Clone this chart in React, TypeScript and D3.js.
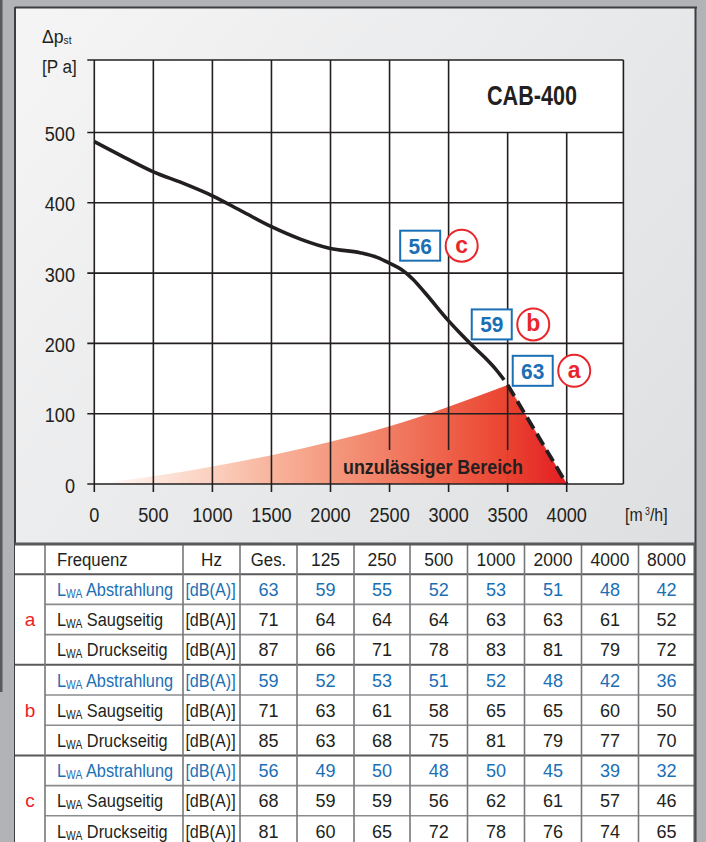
import * as d3 from 'd3';

const WIDTH = 706;
const HEIGHT = 842;

// fan curve CAB-400 [m3/h] / [Pa]
const curveFlow = [0, 250, 500, 750, 1000, 1250, 1500, 1750, 2000, 2250, 2400, 2500, 2600, 2700, 2800, 3000, 3100, 3200, 3300, 3400, 3470];
const curvePressure = [487, 465, 444, 428, 410, 388, 366, 348, 335, 329, 322, 314, 305, 291, 272, 232, 214, 197, 181, 163, 148];

// not allowed region (upper edge) + limit line
const areaFlow = [0, 500, 1000, 1500, 2000, 2500, 3000, 3500];
const areaPressure = [0, 11, 25, 41, 60, 82, 110, 141];
const limitFlow = [3500, 4000];
const limitPressure = [141, 0];

const xTicks = [0, 500, 1000, 1500, 2000, 2500, 3000, 3500, 4000];
const yTicks = [0, 100, 200, 300, 400, 500];

// operating points a / b / c : label box anchor
const pointIds = ['a', 'b', 'c'];
const pointFlow = [3543, 3196, 2590];
const pointPressure = [161, 227, 339];

// table
const freqHeader = ['Ges.', '125', '250', '500', '1000', '2000', '4000', '8000'];
const rowNames = ['Abstrahlung', 'Saugseitig', 'Druckseitig'];
const valuesA = [
  [63, 59, 55, 52, 53, 51, 48, 42],
  [71, 64, 64, 64, 63, 63, 61, 52],
  [87, 66, 71, 78, 83, 81, 79, 72],
];
const valuesB = [
  [59, 52, 53, 51, 52, 48, 42, 36],
  [71, 63, 61, 58, 65, 65, 60, 50],
  [85, 63, 68, 75, 81, 79, 77, 70],
];
const valuesC = [
  [56, 49, 50, 48, 50, 45, 39, 32],
  [68, 59, 59, 56, 62, 61, 57, 46],
  [81, 60, 65, 72, 78, 76, 74, 65],
];
const groups = [valuesA, valuesB, valuesC];

const INK = '#231f20';
const BLUE = '#1a6fb5';
const RED = '#e8262b';
const FONT = "'Liberation Sans', Arial, sans-serif";

type TxtProps = {
  x: number;
  y: number;
  size?: number;
  sx?: number;
  anchor?: 'start' | 'middle' | 'end';
  weight?: string;
  fill?: string;
  children: any;
};

// y = visual middle of the capitals
const Txt = ({ x, y, size = 19, sx = 1, anchor = 'middle', weight = 'normal', fill = INK, children }: TxtProps) => (
  <text
    transform={`translate(${x},${y + size * 0.36}) scale(${sx},1)`}
    fontSize={size}
    textAnchor={anchor}
    fontWeight={weight}
    fill={fill}
  >
    {children}
  </text>
);

const Chart = () => {
  const xScale = d3.scaleLinear().domain([0, 4000]).range([94.3, 566.7]);
  const yScale = d3.scaleLinear().domain([0, 500]).range([484, 132.5]);
  const plotLeft = xScale(0);
  const plotRight = xScale(4480);
  const plotTop = 60;
  const plotBottom = yScale(0);

  const curve = curveFlow.map((q, i) => [q, curvePressure[i]] as [number, number]);
  const lineGen = d3
    .line<[number, number]>()
    .x((d) => xScale(d[0]))
    .y((d) => yScale(d[1]))
    .curve(d3.curveMonotoneX);
  const limitGen = d3
    .line<[number, number]>()
    .x((d) => xScale(d[0]))
    .y((d) => yScale(d[1]));

  const areaGen = d3
    .area<[number, number]>()
    .x((d) => xScale(d[0]))
    .y0(yScale(0))
    .y1((d) => yScale(d[1]));
  const areaTop = areaFlow.map((q, i) => [q, areaPressure[i]] as [number, number]);
  const limit = limitFlow.map((q, i) => [q, limitPressure[i]] as [number, number]);
  const areaPath = areaGen.curve(d3.curveMonotoneX)(areaTop) || '';
  const limitArea = areaGen.curve(d3.curveLinear)(limit) || '';

  const titleLeft = xScale(3000);

  const redRegion = (clip?: string) => (
    <g clipPath={clip}>
      <path d={areaPath} fill="url(#redGrad)" />
      <path d={limitArea} fill="url(#redGrad)" stroke="url(#redGrad)" strokeWidth={0.6} />
    </g>
  );

  return (
    <g fontFamily={FONT}>
      <defs>
        <linearGradient id="redGrad" gradientUnits="userSpaceOnUse" x1={xScale(0)} x2={xScale(4000)} y1={0} y2={0}>
          <stop offset="0" stopColor="#ffffff" />
          <stop offset="0.125" stopColor="#fde6dc" />
          <stop offset="0.25" stopColor="#fbd0bf" />
          <stop offset="0.375" stopColor="#f8b49c" />
          <stop offset="0.5" stopColor="#f49a7f" />
          <stop offset="0.75" stopColor="#ee6048" />
          <stop offset="0.875" stopColor="#ea4330" />
          <stop offset="1" stopColor="#e31e24" />
        </linearGradient>
        <clipPath id="labelClip">
          <rect x={338} y={450} width={195} height={plotBottom - 451} />
        </clipPath>
      </defs>

      <rect x={plotLeft} y={plotTop} width={plotRight - plotLeft} height={plotBottom - plotTop} fill="#fff" />
      {redRegion()}

      {/* grid */}
      {xTicks.slice(1).map((t) => (
        <line
          key={'gx' + t}
          x1={xScale(t)}
          x2={xScale(t)}
          y1={t > 3000 ? yScale(500) : plotTop}
          y2={plotBottom + 8}
          stroke={INK}
          strokeWidth={1.6}
        />
      ))}
      {yTicks.slice(1).map((t) => (
        <line key={'gy' + t} x1={plotLeft - 7} x2={plotRight} y1={yScale(t)} y2={yScale(t)} stroke={INK} strokeWidth={1.6} />
      ))}
      <line x1={plotLeft - 7} x2={plotRight} y1={plotTop} y2={plotTop} stroke={INK} strokeWidth={1.6} />
      <line x1={plotLeft - 7} x2={plotRight} y1={plotBottom} y2={plotBottom} stroke={INK} strokeWidth={1.6} />
      <line x1={plotLeft} x2={plotLeft} y1={plotTop} y2={plotBottom + 8} stroke={INK} strokeWidth={1.6} />
      <line x1={plotRight} x2={plotRight} y1={plotTop} y2={plotBottom} stroke={INK} strokeWidth={1.6} />

      {/* region label sits on its own patch of the gradient */}
      {redRegion('url(#labelClip)')}
      <text x={433} y={473.5} fontSize={20} fontWeight="bold" fill={INK} textAnchor="middle" textLength={180} lengthAdjust="spacingAndGlyphs">
        unzulässiger Bereich
      </text>

      {/* curve + limit */}
      <path d={lineGen(curve) || ''} fill="none" stroke={INK} strokeWidth={3.6} strokeLinecap="butt" />
      <path d={limitGen(limit) || ''} fill="none" stroke={INK} strokeWidth={3.8} strokeDasharray="13,6" />

      {/* title */}
      <text x={(titleLeft + plotRight) / 2 - 4} y={105} fontSize={27} fontWeight="bold" fill={INK} textAnchor="middle" textLength={90} lengthAdjust="spacingAndGlyphs">
        CAB-400
      </text>

      {/* tick labels */}
      {xTicks.map((t) => (
        <Txt key={'xl' + t} x={xScale(t)} y={514.5} size={19.5} sx={0.93}>
          {t}
        </Txt>
      ))}
      {yTicks.map((t) => (
        <Txt key={'yl' + t} x={75} y={yScale(t) + 1.5} size={19.5} sx={0.93} anchor="end">
          {t}
        </Txt>
      ))}
      <Txt x={42} y={36.5} size={19} sx={0.93} anchor="start">
        Δp<tspan fontSize={11} dy={1}>st</tspan>
      </Txt>
      <Txt x={42} y={66} size={19} sx={0.9} anchor="start">
        [P a]
      </Txt>
      <Txt x={625} y={515} size={18} sx={0.88} anchor="start">
        [m<tspan fontSize={10} dy={-6}> 3</tspan>
        <tspan dy={6}>/h]</tspan>
      </Txt>

      {/* operating point labels */}
      {pointIds.map((id, i) => {
        const bx = xScale(pointFlow[i]);
        const cy = yScale(pointPressure[i]);
        return (
          <g key={id}>
            <rect x={bx} y={cy - 15} width={40} height={30} fill="#fff" stroke={BLUE} strokeWidth={2} />
            <Txt x={bx + 20} y={cy} size={22} weight="bold" fill={BLUE} sx={0.95}>
              {groups[i][0][0]}
            </Txt>
            <circle cx={bx + 61.5} cy={cy} r={16} fill="#fff" stroke={RED} strokeWidth={2} />
            <text x={bx + 61.5} y={cy + 7} fontSize={23} fontWeight="bold" fill={RED} textAnchor="middle">
              {id}
            </text>
          </g>
        );
      })}
    </g>
  );
};

const Table = () => {
  const top = 544;
  const rowH = 30.2;
  const colEdges = [15, 45, 183, 240, 297, 354, 410, 467.5, 524.5, 581.5, 638.5, 694.5];
  const rowY = (i: number) => top + i * rowH;
  const valueX = (j: number) => (colEdges[j + 3] + colEdges[j + 4]) / 2;
  const nRows = 1 + groups.length * 3;

  return (
    <g fontFamily={FONT}>
      <rect x={colEdges[0]} y={top} width={colEdges[11] - colEdges[0]} height={HEIGHT - top} fill="#fff" />
      {/* inner horizontal lines */}
      {d3.range(1, nRows + 1).map((i) => {
        const groupLine = (i - 1) % 3 === 0;
        return (
          <line
            key={'h' + i}
            x1={groupLine ? colEdges[0] : colEdges[1]}
            x2={colEdges[11]}
            y1={rowY(i)}
            y2={rowY(i)}
            stroke={groupLine ? '#58595b' : '#8a8c8e'}
            strokeWidth={groupLine ? 2 : 1.6}
          />
        );
      })}
      {colEdges.slice(1, 11).map((x, k) => (
        <line key={'v' + k} x1={x} x2={x} y1={top} y2={HEIGHT} stroke="#77787b" strokeWidth={1.6} />
      ))}
      <line x1={colEdges[11]} x2={colEdges[11]} y1={top} y2={HEIGHT} stroke="#58595b" strokeWidth={2} />
      <line x1={colEdges[0]} x2={colEdges[11] + 1} y1={top} y2={top} stroke="#58595b" strokeWidth={3} />

      {/* header */}
      <Txt x={57} y={rowY(0) + 15} sx={0.88} anchor="start">
        Frequenz
      </Txt>
      <Txt x={(colEdges[2] + colEdges[3]) / 2} y={rowY(0) + 15} sx={0.9}>
        Hz
      </Txt>
      {freqHeader.map((f, j) => (
        <Txt key={'fh' + f} x={valueX(j)} y={rowY(0) + 15} sx={f === 'Ges.' ? 0.88 : 0.92}>
          {f}
        </Txt>
      ))}

      {groups.map((g, gi) => (
        <g key={'g' + gi}>
          <Txt x={30} y={rowY(2 + gi * 3) + 15} fill="#ed1c24">
            {pointIds[gi]}
          </Txt>
          {g.map((vals, ri) => {
            const cy = rowY(1 + gi * 3 + ri) + 15;
            const color = ri === 0 ? BLUE : INK;
            return (
              <g key={'r' + ri}>
                <Txt x={57} y={cy} sx={0.86} anchor="start" fill={color}>
                  L<tspan fontSize={12} dy={2}>WA</tspan>
                  <tspan dy={-2}> {rowNames[ri]}</tspan>
                </Txt>
                <Txt x={(colEdges[2] + colEdges[3]) / 2 - 1} y={cy} sx={0.85} fill={color}>
                  [dB(A)]
                </Txt>
                {vals.map((v, j) => (
                  <Txt key={'v' + j} x={valueX(j)} y={cy} sx={0.95} fill={color}>
                    {v}
                  </Txt>
                ))}
              </g>
            );
          })}
        </g>
      ))}
    </g>
  );
};

export default function App() {
  return (
    <svg width={WIDTH} height={HEIGHT} style={{ position: 'absolute', left: 0, top: 0, display: 'block' }}>
      <defs>
        <linearGradient id="panelGrad" x1="0" y1="0" x2="1" y2="1">
          <stop offset="0" stopColor="#f5f5f6" />
          <stop offset="0.6" stopColor="#e4e5e6" />
          <stop offset="1" stopColor="#d9dadc" />
        </linearGradient>
      </defs>
      {/* frame */}
      <rect x={0} y={0} width={WIDTH} height={HEIGHT} fill="#b1b3b6" />
      <rect x={0} y={0} width={2.5} height={692} fill="#58595b" />
      <rect x={15} y={8} width={680} height={HEIGHT} fill="url(#panelGrad)" />
      <line x1={15} x2={697} y1={7.5} y2={7.5} stroke="#3d3e40" strokeWidth={1.8} />
      <line x1={15} x2={15} y1={7} y2={HEIGHT} stroke="#3d3e40" strokeWidth={2} />
      <line x1={695.5} x2={695.5} y1={7} y2={HEIGHT} stroke="#3d3e40" strokeWidth={2} />
      <Chart />
      <Table />
    </svg>
  );
}
